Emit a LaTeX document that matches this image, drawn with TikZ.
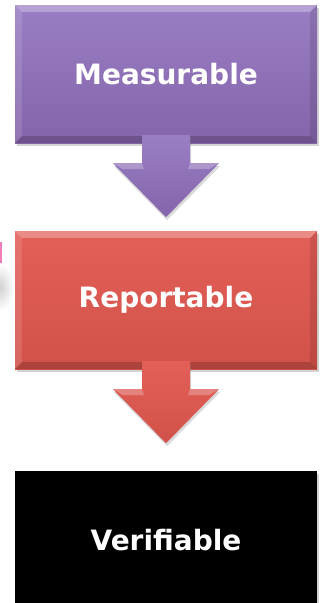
\documentclass[tikz,border=0pt]{standalone}
\usepackage{fontspec}
\setsansfont{DejaVu Sans}
\usetikzlibrary{calc,positioning,shadows}

\definecolor{measTop}{HTML}{9A7EC4}
\definecolor{measBot}{HTML}{8464AA}
\definecolor{repTop}{HTML}{E35F57}
\definecolor{repBot}{HTML}{D1524A}
\definecolor{markPink}{HTML}{F27DBB}

\tikzset{
  stepbox/.style={minimum width=302pt, minimum height=138pt, inner sep=0pt,
    text=white, font=\sffamily\bfseries\fontsize{28}{32}\selectfont,
    drop shadow={opacity=0.35, shadow xshift=1.5pt, shadow yshift=-3pt}},
  arrowshade/.style={drop shadow={opacity=0.3, shadow xshift=1pt, shadow yshift=-3pt}}
}

\begin{document}
\begin{tikzpicture}[x=1pt, y=1pt]
  \useasboundingbox (0,0) rectangle (322,-603);
  % stray marks on the left edge
  \fill[markPink] (0,-242) rectangle (1.5,-265);
  \shade[inner color=black!18, outer color=white] (0,-287) ellipse (14 and 24);

  % the three steps
  \node[stepbox, top color=measTop, bottom color=measBot] (meas) at (166,-74) {Measurable};
  \node[stepbox, top color=repTop, bottom color=repBot] (rep) at (166,-300) {Reportable};
  \node[stepbox, fill=black] (ver) at (166,-540) {Verifiable};

  % bevelled edges
  \foreach \n in {meas, rep} {
    \fill[white, opacity=0.28] (\n.north west) -- (\n.north east) -- ($(\n.north east)+(-7,-7)$) -- ($(\n.north west)+(7,-7)$) -- cycle;
    \fill[white, opacity=0.12] (\n.north west) -- ($(\n.north west)+(7,-7)$) -- ($(\n.south west)+(7,7)$) -- (\n.south west) -- cycle;
    \fill[black, opacity=0.18] (\n.south west) -- ($(\n.south west)+(7,7)$) -- ($(\n.south east)+(-7,7)$) -- (\n.south east) -- cycle;
    \fill[black, opacity=0.10] (\n.north east) -- (\n.south east) -- ($(\n.south east)+(-7,7)$) -- ($(\n.north east)+(-7,-7)$) -- cycle;
  }

  % block arrows between the steps
  \foreach \a/\ct/\cb in {meas/measTop/measBot, rep/repTop/repBot} {
    \path[arrowshade, top color=\ct, bottom color=\cb]
      ($(\a.south)+(-24,8)$) -- ($(\a.south)+(-24,-20)$) -- ($(\a.south)+(-53,-20)$)
      -- ($(\a.south)+(0,-74)$) -- ($(\a.south)+(53,-20)$) -- ($(\a.south)+(24,-20)$)
      -- ($(\a.south)+(24,8)$) -- cycle;
    \fill[white, opacity=0.25] ($(\a.south)+(-53,-20)$) -- ($(\a.south)+(-24,-20)$) -- ($(\a.south)+(-22,-26)$) -- ($(\a.south)+(-43,-26)$) -- cycle;
    \fill[white, opacity=0.25] ($(\a.south)+(53,-20)$) -- ($(\a.south)+(24,-20)$) -- ($(\a.south)+(22,-26)$) -- ($(\a.south)+(43,-26)$) -- cycle;
  }
\end{tikzpicture}
\end{document}
